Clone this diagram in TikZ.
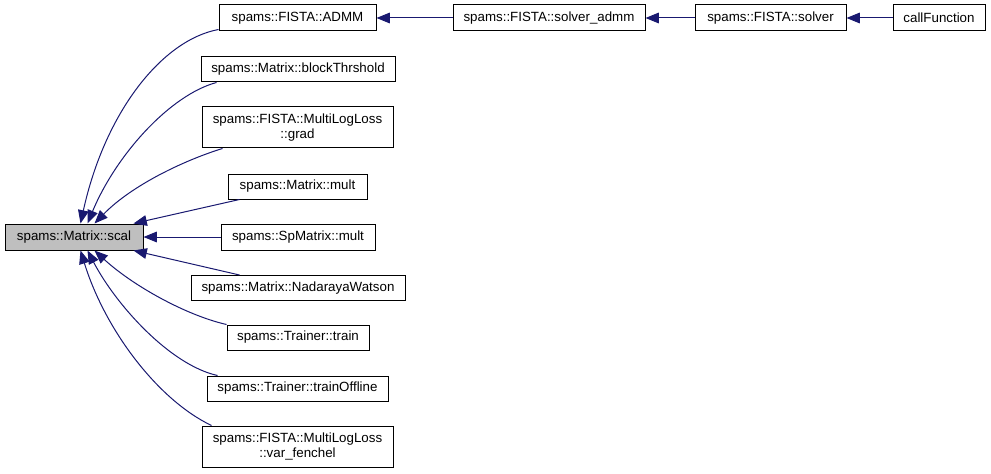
\documentclass[tikz,border=0pt]{standalone}
\usepackage{fontspec}
\setmainfont{Liberation Sans}
\usetikzlibrary{arrows.meta,calc}
\definecolor{edgeblue}{HTML}{191970}
\definecolor{nodegray}{HTML}{BFBFBF}
\begin{document}
\begin{tikzpicture}[x=0.75pt,y=-0.75pt,
  box/.style={draw=black,line width=0.75pt,fill=white,inner sep=0pt,
    font=\fontsize{10}{11.5}\selectfont,align=center},
  edge/.style={draw=edgeblue,line width=0.75pt,
    -{Triangle[length=10pt,width=8pt]}}]
\useasboundingbox (0,0) rectangle (991,474);
% nodes
\node[box,fill=nodegray,minimum width=103.5pt,minimum height=19.5pt] (scal) at (74,237) {spams::Matrix::scal};
\node[box,minimum width=117.75pt,minimum height=19.5pt] (admm) at (297.5,18) {spams::FISTA::ADMM};
\node[box,minimum width=144pt,minimum height=19.5pt] (sadmm) at (549,18) {spams::FISTA::solver\_admm};
\node[box,minimum width=113.25pt,minimum height=19.5pt] (solver) at (770.5,18) {spams::FISTA::solver};
\node[box,minimum width=69pt,minimum height=19.5pt] (call) at (939,18) {callFunction};
\node[box,minimum width=145.5pt,minimum height=18.75pt] (blk) at (298,69.5) {spams::Matrix::blockThrshold};
\node[box,minimum width=143.25pt,minimum height=30.75pt] (grad) at (297.5,127.5) {spams::FISTA::MultiLogLoss\\::grad};
\node[box,minimum width=104.25pt,minimum height=18.75pt] (mult) at (297.5,186.5) {spams::Matrix::mult};
\node[box,minimum width=115.5pt,minimum height=19.5pt] (spmult) at (298,237) {spams::SpMatrix::mult};
\node[box,minimum width=160.5pt,minimum height=18.75pt] (nad) at (298,288) {spams::Matrix::NadarayaWatson};
\node[box,minimum width=106.5pt,minimum height=18.75pt] (train) at (298,337.5) {spams::Trainer::train};
\node[box,minimum width=135.75pt,minimum height=18.75pt] (toff) at (297.5,388.5) {spams::Trainer::trainOffline};
\node[box,minimum width=143.25pt,minimum height=30.75pt] (vf) at (297.5,446.5) {spams::FISTA::MultiLogLoss\\::var\_fenchel};
% chain edges
\draw[edge] (sadmm.west) -- (admm.east);
\draw[edge] (solver.west) -- (sadmm.east);
\draw[edge] (call.west) -- (solver.east);
% edges into scal (top)
\draw[edge] ($(admm.south west)+(0,-2)$) .. controls (162,40) and (105,112) .. ($(scal.north west)+(76,0)$);
\draw[edge] ($(blk.south west)+(16,0)$) .. controls (170,95) and (116,155) .. ($(scal.north west)+(83,0)$);
\draw[edge] ($(grad.south west)+(21,0)$) .. controls (185,160) and (132,185) .. ($(scal.north west)+(90,0)$);
\draw[edge] ($(mult.south west)+(12,0)$) -- ($(scal.north west)+(129,0)$);
\draw[edge] (spmult.west) -- (scal.east);
% edges into scal (bottom)
\draw[edge] ($(nad.north west)+(49,0)$) -- ($(scal.south west)+(129,0)$);
\draw[edge] (train.north west) .. controls (185,315) and (132,285) .. ($(scal.south west)+(90,0)$);
\draw[edge] ($(toff.north west)+(11,0)$) .. controls (170,365) and (116,305) .. ($(scal.south west)+(83,0)$);
\draw[edge] ($(vf.north west)+(10,0)$) .. controls (158,400) and (105,330) .. ($(scal.south west)+(76,0)$);
\end{tikzpicture}
\end{document}
